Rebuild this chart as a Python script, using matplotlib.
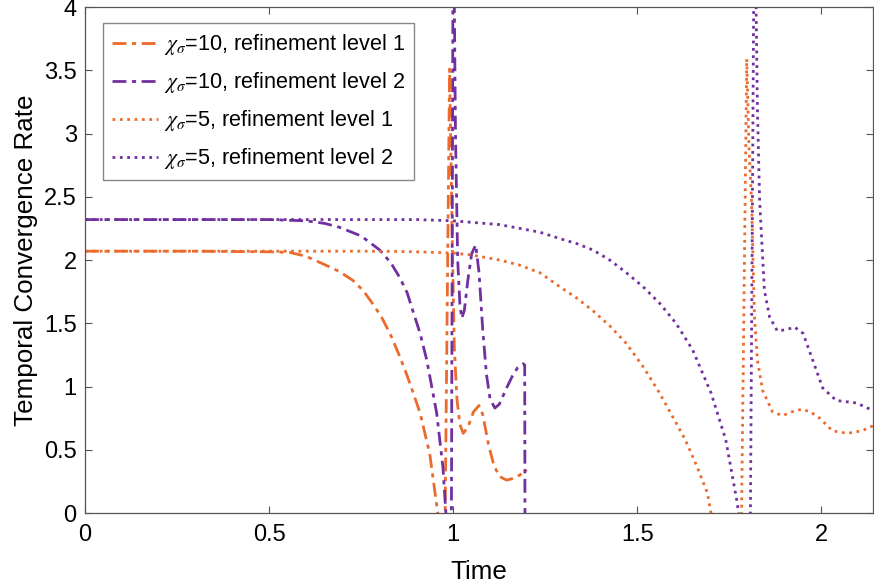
import numpy as np
import matplotlib
matplotlib.use("Agg")
import matplotlib.pyplot as plt

plt.rcParams.update({
    'font.family': ['Liberation Sans', 'DejaVu Sans'],
    'mathtext.fontset': 'stix',
    'xtick.direction': 'in',
    'ytick.direction': 'in',
})

# chi_sigma = 10, refinement level 1
t1 = [0, 0.3, 0.5, 0.556, 0.6, 0.646, 0.69, 0.727, 0.755, 0.78, 0.805, 0.828, 0.85, 0.873,
      0.89, 0.91, 0.936, 0.958, 0.968, 0.978, 0.99, 0.997, 1.003, 1.01, 1.018, 1.027,
      1.04, 1.055, 1.07, 1.08, 1.095, 1.11, 1.125, 1.145, 1.17, 1.19, 1.2]
r1 = [2.07, 2.07, 2.065, 2.06, 2.03, 1.97, 1.91, 1.84, 1.76, 1.66, 1.55, 1.42, 1.27, 1.10,
      0.96, 0.79, 0.47, 0.0, -1.0, 0.0, 3.51, 2.2, 1.3, 0.9, 0.7, 0.63,
      0.68, 0.8, 0.85, 0.78, 0.55, 0.38, 0.29, 0.26, 0.28, 0.32, 0.34]

# chi_sigma = 10, refinement level 2
t2 = [0, 0.3, 0.5, 0.6, 0.65, 0.69, 0.75, 0.80, 0.83, 0.855, 0.875, 0.89, 0.91, 0.928,
      0.955, 0.972, 0.98, 0.988, 0.995, 1.0, 1.006, 1.012, 1.018, 1.023, 1.03, 1.04,
      1.05, 1.061, 1.07, 1.08, 1.09, 1.1, 1.113, 1.125, 1.145, 1.16, 1.175, 1.19, 1.194, 1.195]
r2 = [2.32, 2.32, 2.32, 2.31, 2.29, 2.26, 2.19, 2.08, 1.98, 1.86, 1.74, 1.60, 1.42, 1.21,
      0.79, 0.36, 0.0, -1.0, 0.0, 5.0, 3.0, 2.0, 1.65, 1.54, 1.6, 1.85,
      2.05, 2.12, 1.9, 1.45, 1.1, 0.9, 0.83, 0.86, 0.99, 1.08, 1.15, 1.18, 1.17, -0.5]

# chi_sigma = 5, refinement level 1
t3 = [0, 0.5, 0.8, 0.9, 1.0, 1.05, 1.126, 1.18, 1.235, 1.289, 1.335, 1.379, 1.425, 1.47,
      1.515, 1.56, 1.6, 1.63, 1.66, 1.69, 1.70, 1.74, 1.783, 1.797, 1.803, 1.81, 1.818,
      1.826, 1.84, 1.867, 1.894, 1.92, 1.946, 1.97, 1.995, 2.03, 2.07, 2.11, 2.14]
r3 = [2.07, 2.07, 2.07, 2.065, 2.055, 2.04, 2.0, 1.96, 1.9, 1.79, 1.70, 1.60, 1.48, 1.34,
      1.16, 0.95, 0.74, 0.58, 0.38, 0.16, 0.0, -1.0, 0.0, 3.59, 2.9, 2.47, 1.55,
      1.21, 0.97, 0.80, 0.77, 0.80, 0.82, 0.80, 0.75, 0.65, 0.63, 0.65, 0.69]

# chi_sigma = 5, refinement level 2
t4 = [0, 0.5, 0.9, 1.0, 1.126, 1.235, 1.289, 1.335, 1.379, 1.425, 1.47, 1.515, 1.56,
      1.605, 1.65, 1.70, 1.74, 1.77, 1.775, 1.79, 1.807, 1.818, 1.826, 1.832, 1.845,
      1.859, 1.88, 1.905, 1.927, 1.95, 1.976, 2.003, 2.04, 2.095, 2.14]
r4 = [2.32, 2.32, 2.32, 2.31, 2.28, 2.22, 2.17, 2.13, 2.08, 2.00, 1.90, 1.79, 1.66,
      1.50, 1.29, 0.95, 0.58, 0.10, 0.0, -1.0, 0.0, 5.0, 3.2, 2.47, 1.76,
      1.55, 1.44, 1.45, 1.47, 1.42, 1.21, 0.99, 0.89, 0.87, 0.81]

labels = [r'$\chi_\sigma$=10, refinement level 1',
          r'$\chi_\sigma$=10, refinement level 2',
          r'$\chi_\sigma$=5, refinement level 1',
          r'$\chi_\sigma$=5, refinement level 2']

orange = '#EC6A2C'
purple = '#7030A0'
dashdot = (0, (5, 2, 1.5, 2))

fig = plt.figure(figsize=(8.74, 5.87), dpi=100)
ax = fig.add_axes([0.0973, 0.126, 0.9016, 0.8620])

ax.plot(t1, r1, color=orange, lw=2, linestyle=dashdot, label=labels[0])
ax.plot(t2, r2, color=purple, lw=2, linestyle=dashdot, label=labels[1])
ax.plot(t3, r3, color=orange, lw=2, linestyle=':', label=labels[2])
ax.plot(t4, r4, color=purple, lw=2, linestyle=':', label=labels[3])

ax.set_xlim(0, 2.14)
ax.set_ylim(0, 4)
ax.set_xticks([0, 0.5, 1, 1.5, 2])
ax.set_xticklabels(['0', '0.5', '1', '1.5', '2'])
ax.set_yticks([0, 0.5, 1, 1.5, 2, 2.5, 3, 3.5, 4])
ax.set_yticklabels(['0', '0.5', '1', '1.5', '2', '2.5', '3', '3.5', '4'])
ax.tick_params(labelsize=17, top=True, right=True, length=5, width=0.8,
               color='#555555')
ax.tick_params(axis='x', pad=8)
ax.tick_params(axis='y', pad=6)
for s in ax.spines.values():
    s.set_color('#555555')
    s.set_linewidth(0.9)

ax.set_xlabel('Time', fontsize=18.7, labelpad=10)
ax.set_ylabel('Temporal Convergence Rate', fontsize=18.7, labelpad=4)

leg = ax.legend(loc='upper left', bbox_to_anchor=(0.0228, 0.968), borderaxespad=0,
                fontsize=15.6, fancybox=False, framealpha=1, edgecolor='#888888',
                handlelength=2.1, handletextpad=0.3, labelspacing=0.6,
                borderpad=0.42)
leg.get_frame().set_linewidth(1.0)

fig.savefig('out.png', dpi=100)
